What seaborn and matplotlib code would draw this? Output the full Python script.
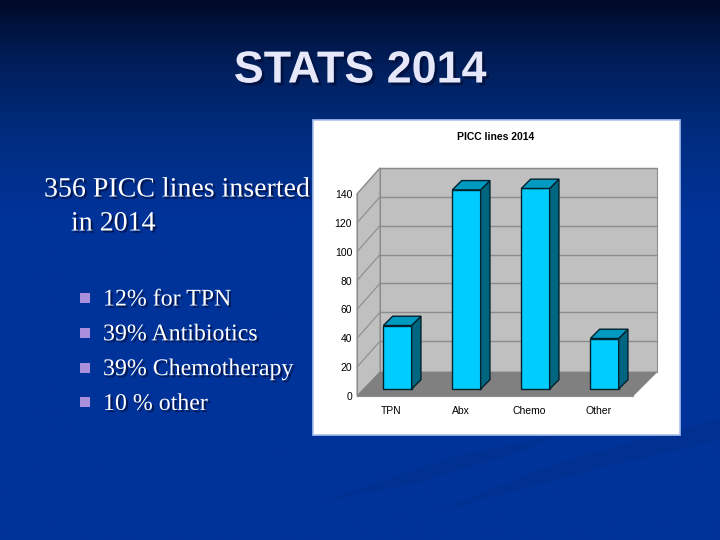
import numpy as np
import pandas as pd
import seaborn as sns
import matplotlib
matplotlib.use('Agg')
import matplotlib.pyplot as plt
from matplotlib.colors import LinearSegmentedColormap
from matplotlib.patches import Polygon, Rectangle
import matplotlib.patheffects as pe

categories = ['TPN', 'Abx', 'Chemo', 'Other']
line_counts = [44, 138, 139, 35]
y_ticks = [0, 20, 40, 60, 80, 100, 120, 140]

slide_title = 'STATS 2014'
lead_lines = ['356 PICC lines inserted', 'in 2014']
bullets = ['12% for TPN', '39% Antibiotics', '39% Chemotherapy', '10 % other']
chart_title = 'PICC lines 2014'

W, H = 720, 540


def box(left, top, right, bottom):
    '''Pixel box (origin top left) to figure fractions'''
    return [left / W, 1 - bottom / H, (right - left) / W, (bottom - top) / H]


sns.set_theme(style='white')
plt.rcParams['font.family'] = ['Liberation Sans', 'DejaVu Sans']

fig = plt.figure(figsize=(7.2, 5.4), dpi=100)

# slide background, full figure in pixel coordinates
bg = fig.add_axes([0, 0, 1, 1])
bg.set_xlim(0, W)
bg.set_ylim(H, 0)
bg.axis('off')
cmap = LinearSegmentedColormap.from_list('slide', [(0, '#000a28'), (0.1, '#001c55'), (0.25, '#002d80'), (0.4, '#003399'), (1, '#003399')])
bg.imshow(np.linspace(0, 1, 256)[:, None], extent=[0, W, H, 0], aspect='auto', cmap=cmap, zorder=0)
# darker swooshes behind the panel
for pts in ([(433, 513), (560, 462), (720, 418), (720, 440), (600, 468)],
            [(317, 503), (450, 458), (560, 434), (520, 452), (420, 482)]):
    bg.add_patch(Polygon(pts, closed=True, fc='#00246e', ec='none', alpha=0.17, zorder=1))

# slide text
shadow = [pe.withSimplePatchShadow(offset=(1.5, -1.5), shadow_rgbFace='#001040', alpha=0.8)]
bg.text(360, 71, slide_title, color='#e6e8fa', fontsize=32.3, fontweight='bold', ha='center', va='center',
        path_effects=[pe.withSimplePatchShadow(offset=(2, -2), shadow_rgbFace='#000a30', alpha=0.6)], zorder=3)
serif = ['Liberation Serif', 'DejaVu Serif']
bg.text(44, 190, lead_lines[0], color='white', fontsize=20.1, family=serif, va='center', path_effects=shadow, zorder=3)
bg.text(71, 224, lead_lines[1], color='white', fontsize=20.1, family=serif, va='center', path_effects=shadow, zorder=3)
for i, label in enumerate(bullets):
    yy = 298 + i * 34.8
    bg.add_patch(Rectangle((80, yy - 5), 10, 10, fc='#a98fdc', ec='none', zorder=3))
    bg.text(103, yy + 2, label, color='white', fontsize=17.2, family=serif, va='center', path_effects=shadow, zorder=3)

# white picture panel with pale border
bg.add_patch(Rectangle((313, 119.5), 367, 315, fc='white', ec='#a9c0ee', lw=1.2, zorder=2))
bg.text(496, 137, chart_title, color='black', fontsize=7.5, fontweight='bold', ha='center', va='center', zorder=3)

# 3d box: back wall, floor and left wall, pixel coordinates
wall_left, wall_right, wall_top, wall_bottom = 380, 657, 168, 372
front_left, front_right, front_zero = 357, 633, 396
bg.add_patch(Polygon([(wall_left, wall_top), (wall_right, wall_top), (wall_right, wall_bottom), (wall_left, wall_bottom)], fc='#c0c0c0', ec='#8c8c8c', lw=0.8, zorder=3))
bg.add_patch(Polygon([(front_left, 194), (wall_left, wall_top), (wall_left, wall_bottom), (front_left, front_zero)], fc='#c0c0c0', ec='#8c8c8c', lw=0.8, zorder=3))
bg.add_patch(Polygon([(front_left, front_zero), (wall_left, wall_bottom), (wall_right, wall_bottom), (front_right, front_zero)], fc='#808080', ec='#808080', lw=0.5, zorder=3))

# front axis carries the ticks and labels
px_per_unit = (front_zero - 194) / 140
front = fig.add_axes(box(front_left, 194, front_right, front_zero), facecolor='none', zorder=3)
front.set_xlim(-0.5, 3.5)
front.set_ylim(0, 140)
for tick in y_ticks[1:]:
    yy = front_zero - tick * px_per_unit
    bg.plot([front_left, wall_left], [yy, yy - 26], color='#8c8c8c', lw=0.8, zorder=4)
    bg.plot([wall_left, wall_right], [yy - 26, yy - 26], color='#8c8c8c', lw=1.0, zorder=4)
front.set_xticks(range(4), categories)
front.set_yticks(y_ticks)
front.tick_params(colors='black', labelsize=7.5, length=2, width=0.6, color='#8c8c8c', pad=1.5)
front.tick_params(axis='x', pad=4, length=3)
sns.despine(ax=front, top=True, right=True)
for side in ['left', 'bottom']:
    front.spines[side].set_color('#8c8c8c')
    front.spines[side].set_linewidth(0.8)

# bars stand on the floor, slightly behind the front axis
df = pd.DataFrame({'category': categories, 'lines': line_counts})
bar_zero = 389
ax = fig.add_axes(box(front_left + 6, bar_zero - 140 * px_per_unit, front_right + 6, bar_zero), facecolor='none', zorder=4)
sns.barplot(data=df, x='category', y='lines', order=categories, color='#00ccff', saturation=1, width=0.41, edgecolor='#00222e', linewidth=1.0, ax=ax)
ax.set_xlim(-0.5, 3.5)
ax.set_ylim(0, 140)
ax.axis('off')

dx = 9.3 / ((front_right - front_left) / 4)
dy = 9.3 / px_per_unit
for bar in list(ax.patches):
    x0, w, h = bar.get_x(), bar.get_width(), bar.get_height()
    ax.add_patch(Polygon([(x0 + w, 0), (x0 + w + dx, dy), (x0 + w + dx, h + dy), (x0 + w, h)], fc='#006680', ec='#00222e', lw=1.0, clip_on=False))
    ax.add_patch(Polygon([(x0, h), (x0 + dx, h + dy), (x0 + w + dx, h + dy), (x0 + w, h)], fc='#0099bf', ec='#00222e', lw=1.0, clip_on=False))
    bar.set_clip_on(False)

fig.savefig('out.png', dpi=100)
